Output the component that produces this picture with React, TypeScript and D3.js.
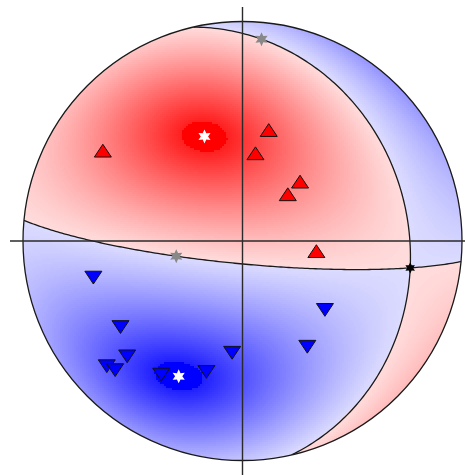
import React, { useMemo } from 'react';
import * as d3 from 'd3';

type V3 = [number, number, number];

const WIDTH = 465;
const HEIGHT = 475;
const CX = 242.5;
const CY = 241;
const RADIUS = 219.5;

// principal axes: [azimuth deg, plunge deg]
const T_AXIS: [number, number] = [340, 48];
const P_AXIS: [number, number] = [205, 32];

// stations with positive (compressional) first motion: azimuth, takeoff angle
const UP_AZIMUTH = [302.9, 13.3, 8.4, 44.1, 44.1, 97.8];
const UP_TAKEOFF = [64.8, 43.1, 33.2, 30.9, 24.2, 27.8];

// stations with negative (dilatational) first motion
const DOWN_AZIMUTH = [256.2, 234.8, 225.0, 227.3, 224.6, 211.3, 195.4, 185.3, 129.9, 148.5];
const DOWN_TAKEOFF = [59.3, 57.5, 63.4, 73.0, 71.5, 60.5, 51.9, 42.4, 40.5, 47.1];

const rad = Math.PI / 180;
const dot = (a: V3, b: V3) => a[0] * b[0] + a[1] * b[1] + a[2] * b[2];
const cross = (a: V3, b: V3): V3 => [
  a[1] * b[2] - a[2] * b[1],
  a[2] * b[0] - a[0] * b[2],
  a[0] * b[1] - a[1] * b[0],
];
const scl = (a: V3, k: number): V3 => [a[0] * k, a[1] * k, a[2] * k];
const add = (a: V3, b: V3): V3 => [a[0] + b[0], a[1] + b[1], a[2] + b[2]];
const sub = (a: V3, b: V3): V3 => [a[0] - b[0], a[1] - b[1], a[2] - b[2]];
const norm = (a: V3): V3 => scl(a, 1 / Math.sqrt(dot(a, a)));

// (North, East, Down)
const axisVec = (az: number, pl: number): V3 => [
  Math.cos(pl * rad) * Math.cos(az * rad),
  Math.cos(pl * rad) * Math.sin(az * rad),
  Math.sin(pl * rad),
];
const rayVec = (az: number, to: number): V3 => [
  Math.sin(to * rad) * Math.cos(az * rad),
  Math.sin(to * rad) * Math.sin(az * rad),
  Math.cos(to * rad),
];

function starPath(cx: number, cy: number, ro: number, ri: number, n = 6) {
  const pts: [number, number][] = [];
  for (let i = 0; i < n * 2; i++) {
    const a = -Math.PI / 2 + (i * Math.PI) / n;
    const r = i % 2 === 0 ? ro : ri;
    pts.push([cx + r * Math.cos(a), cy + r * Math.sin(a)]);
  }
  return 'M' + pts.map((p) => p[0].toFixed(2) + ',' + p[1].toFixed(2)).join('L') + 'Z';
}

export default function App() {
  const x = d3.scaleLinear().domain([-1, 1]).range([CX - RADIUS, CX + RADIUS]);
  const y = d3.scaleLinear().domain([-1, 1]).range([CY + RADIUS, CY - RADIUS]);

  const T = norm(axisVec(T_AXIS[0], T_AXIS[1]));
  const P0 = axisVec(P_AXIS[0], P_AXIS[1]);
  const P = norm(sub(P0, scl(T, dot(P0, T))));
  const B = norm(cross(T, P));
  const n1 = norm(sub(T, P));
  const n2 = norm(add(T, P));

  const project = (v: V3): [number, number] => {
    let [N, E, D] = v;
    if (D < 0) {
      N = -N;
      E = -E;
      D = -D;
    }
    const s = 1 / Math.sqrt(1 + D);
    return [x(E * s), y(N * s)];
  };

  const redScale = d3.scaleLinear<string>().domain([0, 1]).range(['#ffdcdc', '#ff0000']).interpolate(d3.interpolateRgb);
  const blueScale = d3.scaleLinear<string>().domain([0, 1]).range(['#dcdcff', '#0000ff']).interpolate(d3.interpolateRgb);

  const cells = useMemo(() => {
    const out: { x: number; y: number; w: number; c: string }[] = [];
    const step = 2;
    const x0 = Math.floor(CX - RADIUS) - 1;
    const x1 = Math.ceil(CX + RADIUS) + 1;
    const y0 = Math.floor(CY - RADIUS) - 1;
    const y1 = Math.ceil(CY + RADIUS) + 1;
    for (let py = y0; py < y1; py += step) {
      let run: { x: number; y: number; w: number; c: string } | null = null;
      for (let px = x0; px < x1; px += step) {
        let X = x.invert(px + step / 2);
        let Y = y.invert(py + step / 2);
        let r2 = X * X + Y * Y;
        if (r2 > 1.04) {
          run = null;
          continue;
        }
        if (r2 > 1) {
          const r = Math.sqrt(r2);
          X /= r;
          Y /= r;
          r2 = 1;
        }
        const k = Math.sqrt(2 - r2);
        const p: V3 = [Y * k, X * k, 1 - r2];
        const a = dot(p, T) ** 2 - dot(p, P) ** 2;
        const m = Math.abs(a);
        let t = m > 0.98 ? 1 : 1 - Math.sqrt(1 - m);
        t = Math.round(t * 160) / 160;
        const c = a >= 0 ? redScale(t) : blueScale(t);
        if (run && run.c === c && run.x + run.w === px) {
          run.w += step;
        } else {
          run = { x: px, y: py, w: step, c };
          out.push(run);
        }
      }
    }
    return out;
  }, []);

  const planes = [n1, n2].map((n) => {
    const u = norm([n[1], -n[0], 0]);
    let v = cross(n, u);
    if (v[2] < 0) v = scl(v, -1);
    const pts = d3.range(0, 181).map((deg) => {
      const th = deg * rad;
      return project(add(scl(u, Math.cos(th)), scl(v, Math.sin(th))));
    });
    return d3.line()(pts) as string;
  });

  const upPts = UP_AZIMUTH.map((az, i) => project(rayVec(az, UP_TAKEOFF[i])));
  const downPts = DOWN_AZIMUTH.map((az, i) => project(rayVec(az, DOWN_TAKEOFF[i])));
  const triW = 8.5;
  const triH = 6.4;

  const tPt = project(T);
  const pPt = project(P);
  const bPt = project(B);
  const pole1 = project(n1);
  const pole2 = project(n2);

  return (
    <div style={{ position: 'absolute', left: 0, top: 0 }}>
      <svg width={WIDTH} height={HEIGHT} style={{ display: 'block', background: '#fff' }}>
        <defs>
          <clipPath id="ball">
            <circle cx={CX} cy={CY} r={RADIUS} />
          </clipPath>
        </defs>
        <g clipPath="url(#ball)" shapeRendering="crispEdges">
          {cells.map((c, i) => (
            <rect key={i} x={c.x} y={c.y} width={c.w} height={2} fill={c.c} />
          ))}
        </g>
        <g clipPath="url(#ball)">
          {planes.map((d, i) => (
            <path key={i} d={d} fill="none" stroke="#1a1a1a" strokeWidth={1.3} />
          ))}
        </g>
        <circle cx={CX} cy={CY} r={RADIUS} fill="none" stroke="#1a1a1a" strokeWidth={1.3} />
        <line x1={10} x2={WIDTH} y1={CY} y2={CY} stroke="#2a2a2a" strokeWidth={1.4} />
        <line x1={CX} x2={CX} y1={7} y2={HEIGHT} stroke="#2a2a2a" strokeWidth={1.4} />
        {upPts.map(([px, py], i) => (
          <path
            key={'u' + i}
            d={`M${px},${py - triH}L${px + triW},${py + triH}L${px - triW},${py + triH}Z`}
            fill="#ff0000"
            stroke="#111"
            strokeWidth={1}
          />
        ))}
        {downPts.map(([px, py], i) => (
          <path
            key={'d' + i}
            d={`M${px - triW},${py - triH}L${px + triW},${py - triH}L${px},${py + triH}Z`}
            fill="#0000ff"
            stroke="#111"
            strokeWidth={1}
          />
        ))}
        <path d={starPath(pole1[0], pole1[1], 7, 3.6)} fill="#888" />
        <path d={starPath(pole2[0], pole2[1], 7, 3.6)} fill="#888" />
        <path d={starPath(bPt[0], bPt[1], 5.5, 3)} fill="#000" />
        <path d={starPath(tPt[0], tPt[1], 7, 3.6)} fill="#fff" />
        <path d={starPath(pPt[0], pPt[1], 7, 3.6)} fill="#fff" />
      </svg>
    </div>
  );
}
